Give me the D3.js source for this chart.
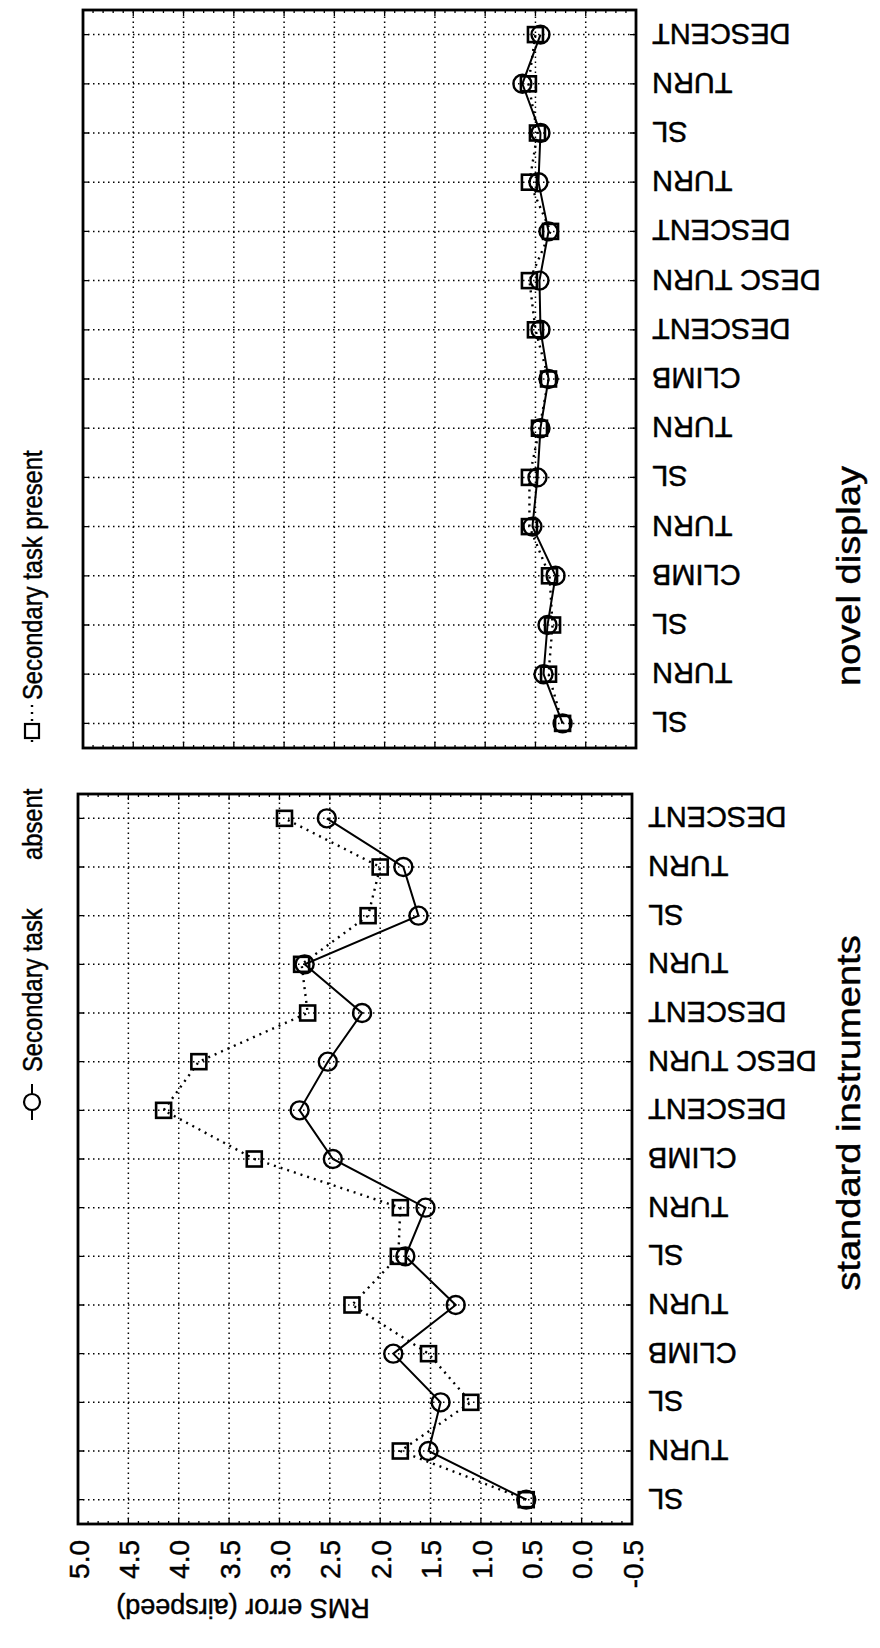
<!DOCTYPE html>
<html><head><meta charset="utf-8">
<script src="https://cdn.jsdelivr.net/npm/d3@7"></script>
<style>html,body{margin:0;padding:0;background:#fff;}svg{display:block;}text{font-family:"Liberation Sans",Arial,Helvetica,sans-serif;fill:#000;stroke:#000;stroke-width:0.45px;}</style>
</head><body>
<svg id="chart" width="880" height="1648"></svg>
<script>
// ---- data ----
const categories = ["SL","TURN","SL","CLIMB","TURN","SL","TURN","CLIMB","DESCENT","DESC TURN","DESCENT","TURN","SL","TURN","DESCENT"];
const valueTicks = [-0.5,0.0,0.5,1.0,1.5,2.0,2.5,3.0,3.5,4.0,4.5,5.0];
const tickLabels = ["-0.5","0.0","0.5","1.0","1.5","2.0","2.5","3.0","3.5","4.0","4.5","5.0"];
const legendLabels = ["Secondary task", "absent", "Secondary task present"];
const panelTitles = ["standard instruments","novel display"];
// standard instruments
const stdAbsent  = [0.55,1.52,1.40,1.87,1.25,1.75,1.55,2.47,2.80,2.52,2.18,2.75,1.62,1.77,2.53];
const stdPresent = [0.55,1.80,1.10,1.52,2.28,1.82,1.80,3.25,4.15,3.80,2.72,2.78,2.12,2.00,2.95];
// novel display
const novAbsent  = [0.23,0.42,0.38,0.30,0.53,0.48,0.45,0.37,0.45,0.46,0.37,0.47,0.45,0.63,0.45];
const novPresent = [0.23,0.37,0.33,0.36,0.56,0.56,0.46,0.37,0.50,0.56,0.35,0.56,0.48,0.57,0.50];

// ---- layout (chart drawn in its own frame, then turned a quarter turn) ----
const svg = d3.select("#chart");
const root = svg.append("g").attr("transform","translate(0,1648) rotate(-90)");

const panels = [
  {x0:124, x1:854, yTop:78, yBot:632, abs:stdAbsent, pres:stdPresent, title:panelTitles[0], tx:535, ticks:true},
  {x0:900, x1:1638, yTop:83, yBot:636, abs:novAbsent, pres:novPresent, title:panelTitles[1], tx:1072, ticks:false}
];

panels.forEach(p=>{
  const g = root.append("g");
  const x = d3.scalePoint().domain(d3.range(categories.length)).range([p.x0,p.x1]).padding(0.5);
  const y = d3.scaleLinear().domain([-0.5,5.0]).range([p.yBot,p.yTop]);

  // grid
  g.append("g").selectAll("line").data(d3.range(categories.length)).join("line")
    .attr("x1",d=>x(d)).attr("x2",d=>x(d)).attr("y1",p.yTop).attr("y2",p.yBot)
    .attr("stroke","#000").attr("stroke-width",1.5).attr("stroke-dasharray","1.5,3.5");
  g.append("g").selectAll("line").data(valueTicks.slice(1,-1)).join("line")
    .attr("x1",p.x0).attr("x2",p.x1).attr("y1",d=>y(d)).attr("y2",d=>y(d))
    .attr("stroke","#000").attr("stroke-width",1.5).attr("stroke-dasharray","1.5,3.5");

  // minor / major ticks on frame
  const minor = d3.range(-5,51).map(i=>i/10);
  g.append("g").selectAll("path").data(minor).join("path")
    .attr("d",d=>{const yy=y(d); const L=(Math.round(d*10)%5===0)?6:3;
      return `M${p.x0},${yy}h${L}M${p.x1},${yy}h${-L}`;})
    .attr("stroke","#000").attr("stroke-width",1.3);
  g.append("g").selectAll("path").data(d3.range(categories.length)).join("path")
    .attr("d",d=>`M${x(d)},${p.yTop}v6M${x(d)},${p.yBot}v-6`)
    .attr("stroke","#000").attr("stroke-width",1.3);

  // frame
  g.append("rect").attr("x",p.x0).attr("y",p.yTop).attr("width",p.x1-p.x0).attr("height",p.yBot-p.yTop)
    .attr("fill","none").attr("stroke","#000").attr("stroke-width",2.8);

  // value axis labels (only first panel)
  if(p.ticks){
    const ax = d3.axisLeft(y).tickValues(valueTicks).tickFormat((d,i)=>tickLabels[i]).tickSize(0).tickPadding(0);
    const ag = g.append("g").attr("transform",`translate(${p.x0-16},0)`).call(ax);
    ag.select(".domain").remove();
    ag.attr("font-family",null).attr("font-size",null);
    ag.selectAll("text").attr("font-size",28).attr("dy","0.36em")
      .attr("x",0).attr("text-anchor","end");
    root.append("text").attr("transform",`translate(40,243) rotate(-90)`)
      .attr("text-anchor","middle").attr("dy","0.35em").attr("font-size",27).text("RMS error (airspeed)");
  }

  // category labels
  const cx = d3.axisBottom(x).tickFormat(i=>categories[i]).tickSize(0).tickPadding(0);
  const cg = g.append("g").attr("transform",`translate(0,${p.yBot+16})`).call(cx);
  cg.select(".domain").remove();
  cg.attr("font-family",null).attr("font-size",null);
  cg.selectAll("text").attr("font-size",29).attr("transform","rotate(-90)")
    .attr("x",0).attr("y",0).attr("dy","0.36em").attr("text-anchor","end");

  // panel title
  g.append("text").attr("transform",`translate(${p.tx},${848}) scale(1.12,1)`)
    .attr("text-anchor","middle").attr("dy","0.35em").attr("font-size",34).text(p.title);

  // series
  const line = d3.line().x((d,i)=>x(i)).y(d=>y(d));
  g.append("path").datum(p.pres).attr("d",line).attr("fill","none").attr("stroke","#000")
    .attr("stroke-width",2.4).attr("stroke-dasharray","2,5");
  g.append("path").datum(p.abs).attr("d",line).attr("fill","none").attr("stroke","#000")
    .attr("stroke-width",2);
  g.append("g").selectAll("circle").data(p.abs).join("circle")
    .attr("cx",(d,i)=>x(i)).attr("cy",d=>y(d)).attr("r",9)
    .attr("fill","none").attr("stroke","#000").attr("stroke-width",2.4);
  g.append("g").selectAll("rect").data(p.pres).join("rect")
    .attr("x",(d,i)=>x(i)-7.5).attr("y",d=>y(d)-7.5).attr("width",15).attr("height",15)
    .attr("fill","none").attr("stroke","#000").attr("stroke-width",2.6);
});

// legend
const lg = root.append("g");
lg.append("line").attr("x1",528).attr("x2",564).attr("y1",32).attr("y2",32).attr("stroke","#000").attr("stroke-width",2);
lg.append("circle").attr("cx",546).attr("cy",32).attr("r",8).attr("fill","#fff").attr("stroke","#000").attr("stroke-width",2.2);
lg.append("text").attr("transform","translate(576,32) scale(0.88,1)").attr("dy","0.36em").attr("font-size",27).text(legendLabels[0]);
lg.append("text").attr("transform","translate(788,32) scale(0.88,1)").attr("dy","0.36em").attr("font-size",27).text(legendLabels[1]);
lg.append("line").attr("x1",906).attr("x2",944).attr("y1",32).attr("y2",32).attr("stroke","#000").attr("stroke-width",2.4).attr("stroke-dasharray","2,5");
lg.append("rect").attr("x",910).attr("y",25).attr("width",14).attr("height",14).attr("fill","#fff").attr("stroke","#000").attr("stroke-width",2.2);
lg.append("text").attr("transform","translate(948,32) scale(0.88,1)").attr("dy","0.36em").attr("font-size",27).text(legendLabels[2]);
</script>
</body></html>
